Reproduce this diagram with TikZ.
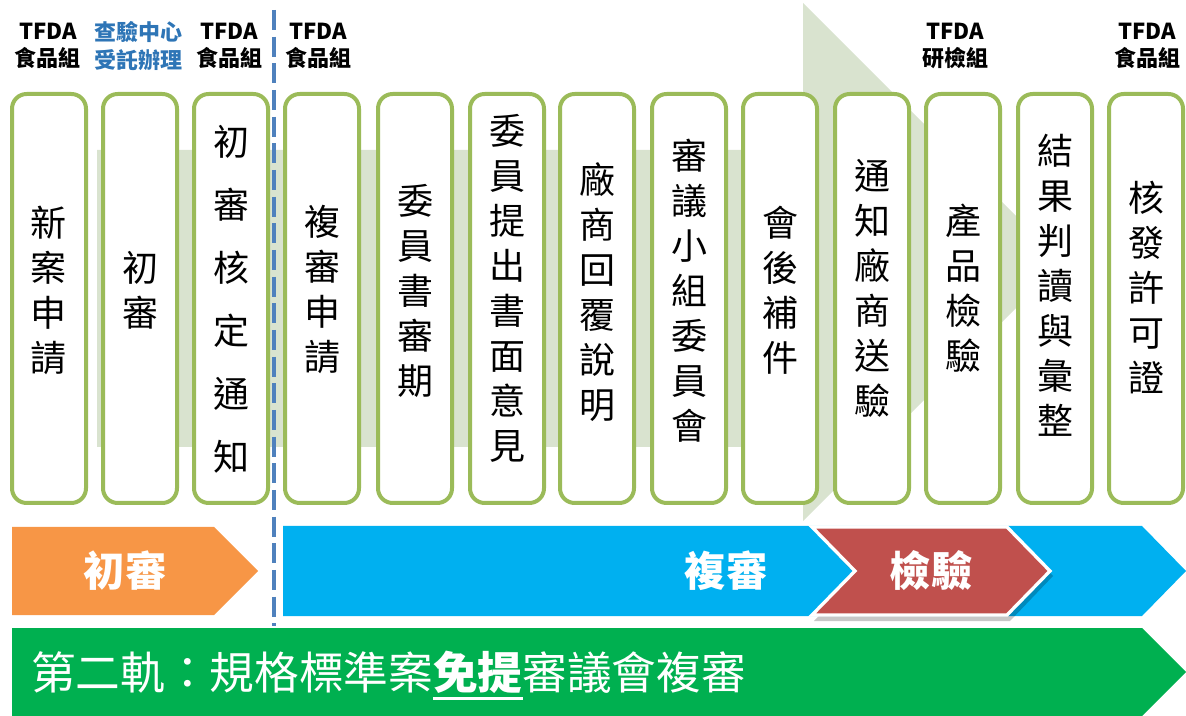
\documentclass[tikz,border=0pt]{standalone}
\usepackage{fontspec}
\setmainfont{Noto Sans CJK TC}
\definecolor{boxgreen}{HTML}{9BBB59}
\definecolor{bggreen}{HTML}{D9E3CF}
\definecolor{orangec}{HTML}{F79646}
\definecolor{bluec}{HTML}{00B0F0}
\definecolor{redc}{HTML}{C0504D}
\definecolor{greenc}{HTML}{00B050}
\definecolor{dashblue}{HTML}{4F81BD}
\definecolor{labelblue}{HTML}{2E75B6}
\newcommand\myul[1]{\vtop{\hbox{#1}\kern3pt\hrule height 2.2pt}}
\begin{document}
\begin{tikzpicture}[x=0.75pt,y=-0.75pt,
  stepbox/.style={draw=boxgreen, line width=3pt, rounded corners=11pt, fill=white,
    minimum width=55.5pt, minimum height=306.75pt, inner sep=0pt},
  vtext/.style={font=\fontsize{27}{33.75}\selectfont, align=center, inner sep=0pt, text=black},
  toplabel/.style={font=\bfseries\fontsize{16.5}{20.5}\selectfont, align=center, inner sep=0pt},
  barlabel/.style={font=\bfseries\fontsize{31}{36}\selectfont, text=white, inner sep=0pt}]
\useasboundingbox (0,0) rectangle (1186,716);
% background arrow
\fill[bggreen] (97,150) -- (803,150) -- (803,3) -- (1062,262) -- (803,521) -- (803,447) -- (97,447) -- cycle;
% boxes
\foreach \n/\x in {1/49,2/140,3/231,4/322,5/415,6/507,7/597,8/689,9/780,10/872,11/963,12/1055,13/1146}
  \node[stepbox] (b\n) at (\x,298.5) {};
% box texts
\node[vtext] (t1) at (b1.center |- 0,290) {新\\案\\申\\請};
\node[vtext] (t2) at (b2.center |- 0,290) {初\\審};
\node[vtext, font=\fontsize{27}{47.25}\selectfont] (t3) at (b3.center |- 0,299) {初\\審\\核\\定\\通\\知};
\node[vtext] (t4) at (b4.center |- 0,290) {複\\審\\申\\請};
\node[vtext] (t5) at (b5.center |- 0,291) {委\\員\\書\\審\\期};
\node[vtext] (t6) at (b6.center |- 0,288) {委\\員\\提\\出\\書\\面\\意\\見};
\node[vtext] (t7) at (b7.center |- 0,292) {廠\\商\\回\\覆\\說\\明};
\node[vtext] (t8) at (b8.center |- 0,291) {審\\議\\小\\組\\委\\員\\會};
\node[vtext] (t9) at (b9.center |- 0,290) {會\\後\\補\\件};
\node[vtext] (t10) at (b10.center |- 0,288) {通\\知\\廠\\商\\送\\驗};
\node[vtext] (t11) at (b11.center |- 0,288) {產\\品\\檢\\驗};
\node[vtext] (t12) at (b12.center |- 0,285) {結\\果\\判\\讀\\與\\彙\\整};
\node[vtext] (t13) at (b13.center |- 0,288) {核\\發\\許\\可\\證};
% top labels
\node[toplabel] (l1) at (48,46) {TFDA\\食品組};
\node[toplabel, text=labelblue] (l2) at (138,46) {查驗中心\\受託辦理};
\node[toplabel] (l3) at (229,46) {TFDA\\食品組};
\node[toplabel] (l4) at (318,46) {TFDA\\食品組};
\node[toplabel] (l5) at (955,46) {TFDA\\研檢組};
\node[toplabel] (l6) at (1147,46) {TFDA\\食品組};
% bars
\fill[orangec] (12,527) -- (214,527) -- (258,571) -- (214,615) -- (12,615) -- cycle;
\node[barlabel] (p1) at (125,571) {初審};
\fill[bluec] (283,526) -- (1142,526) -- (1186,571) -- (1142,616) -- (283,616) -- cycle;
\node[barlabel] (p2) at (726,571) {複審};
\fill[black, opacity=0.22] (814,531) -- (1010,531) -- (1053,576) -- (1010,621) -- (814,621) -- (857,576) -- cycle;
\filldraw[fill=redc, draw=white, line width=2.5pt, line join=miter] (812,527) -- (1007,527) -- (1050,571) -- (1007,615) -- (812,615) -- (855,571) -- cycle;
\node[barlabel] (p3) at (931,571) {檢驗};
\fill[greenc] (12,628) -- (1142,628) -- (1186,672) -- (1142,716) -- (12,716) -- cycle;
\node[inner sep=0pt, text=white, anchor=base west, font=\fontsize{33.5}{40}\selectfont] (g) at (31,689)
  {第二軌：規格標準案\myul{\bfseries 免提}審議會複審};
% dashed separator
\coordinate (dtop) at (274,10);
\coordinate (dbot) at (274,626);
\draw[dashblue, line width=3pt, dash pattern=on 15pt off 5pt] (dtop) -- (dbot);
\end{tikzpicture}
\end{document}
